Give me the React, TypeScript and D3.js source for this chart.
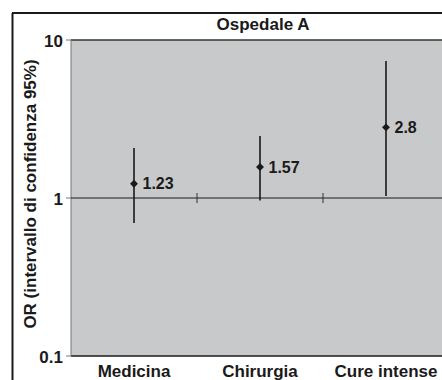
import React from "react";
import * as d3 from "d3";

const categories = ["Medicina", "Chirurgia", "Cure intense"];
const orValues = [1.23, 1.57, 2.8];
const lowerCI = [0.695, 0.965, 1.03];
const upperCI = [2.07, 2.47, 7.36];
const valueLabels = ["1.23", "1.57", "2.8"];
const yTicks = [0.1, 1, 10];
const yTickLabels = ["0.1", "1", "10"];
const title = "Ospedale A";
const yTitle = "OR (intervallo di confidenza 95%)";

export default function App() {
  const W = 442, H = 380;
  const left = 71, right = 449, top = 40, bottom = 356;
  const x = d3.scaleBand().domain(categories).range([left, right]);
  const y = d3.scaleLog().domain([0.1, 10]).range([bottom, top]);
  const font = "'Liberation Sans', Arial, sans-serif";
  const diamond = d3.symbol().type(d3.symbolDiamond2).size(40)();
  const y1 = y(1);
  const ink = "#1a1a1a";
  return (
    <svg width={W} height={H} style={{ position: "absolute", left: 0, top: 0 }} fontFamily={font}>
      <rect x={0} y={0} width={W} height={H} fill="#fff" />
      <rect x={left} y={top} width={right - left} height={bottom - top} fill="#c8c9cb" />
      {/* outer border */}
      <line x1={12.5} y1={13} x2={12.5} y2={H} stroke={ink} strokeWidth={2} />
      <line x1={12} y1={13} x2={W} y2={13} stroke={ink} strokeWidth={2} />
      {/* plot top and bottom lines */}
      <line x1={left} y1={top} x2={W} y2={top} stroke="#333" strokeWidth={1.5} />
      <line x1={left} y1={bottom} x2={W} y2={bottom} stroke={ink} strokeWidth={1.5} />
      <line x1={left} y1={top} x2={left} y2={bottom} stroke="#777" strokeWidth={1} />
      {/* reference line at 1 */}
      <line x1={left} y1={y1} x2={W} y2={y1} stroke={ink} strokeWidth={1} />
      {categories.slice(1).map((c) => (
        <line key={c} x1={x(c)!} x2={x(c)!} y1={y1 - 5} y2={y1 + 5} stroke="#333" strokeWidth={1} />
      ))}
      {/* y ticks */}
      {yTicks.map((t, i) => (
        <g key={t}>
          <line x1={left - 5} x2={left} y1={y(t)} y2={y(t)} stroke="#777" strokeWidth={1} />
          <text x={left - 8} y={y(t) + 1} dy="0.35em" textAnchor="end" fontSize={17} fontWeight="bold" fill={ink}>
            {yTickLabels[i]}
          </text>
        </g>
      ))}
      {/* error bars */}
      {categories.map((c, i) => {
        const cx = x(c)! + x.bandwidth() / 2;
        return (
          <g key={c}>
            <line x1={cx} x2={cx} y1={y(upperCI[i])} y2={y(lowerCI[i])} stroke={ink} strokeWidth={1.6} />
            <path d={diamond!} transform={`translate(${cx},${y(orValues[i])})`} fill={ink} />
            <text x={cx + 8.5} y={y(orValues[i])} dy="0.35em" fontSize={16} fontWeight="bold" fill={ink}>
              {valueLabels[i]}
            </text>
            <text x={cx} y={377} textAnchor="middle" fontSize={17} fontWeight="bold" fill={ink}>
              {c}
            </text>
          </g>
        );
      })}
      <text x={263} y={29.5} textAnchor="middle" fontSize={17} fontWeight="bold" fill={ink}>
        {title}
      </text>
      <text transform={`translate(30,194) rotate(-90)`} dy="0.35em" textAnchor="middle" fontSize={17} fontWeight="bold" fill={ink}>
        {yTitle}
      </text>
    </svg>
  );
}
